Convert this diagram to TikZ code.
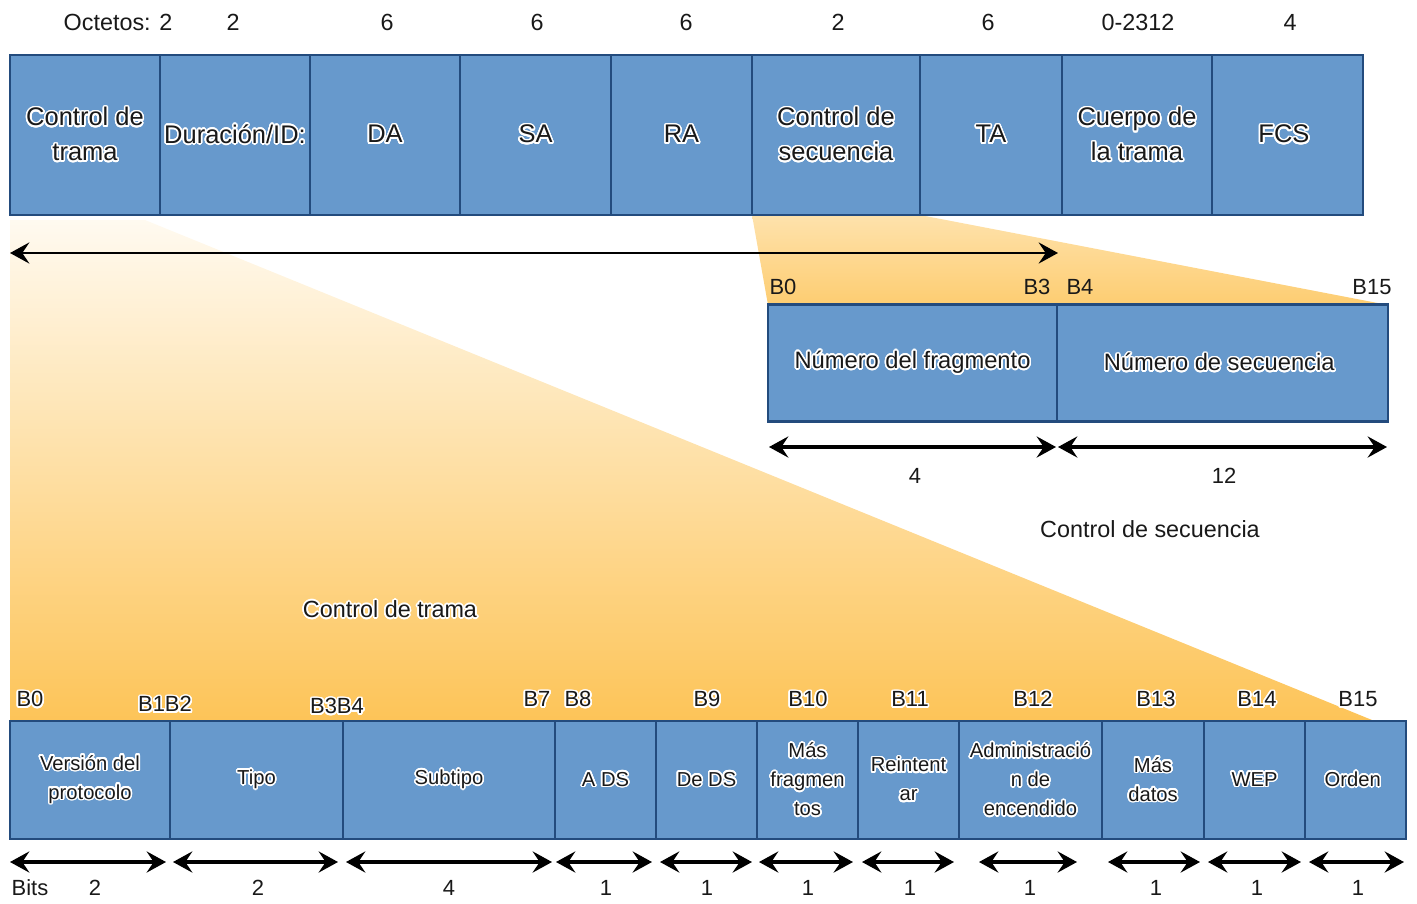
\documentclass[tikz,border=0pt]{standalone}
\usepackage{fontspec}
\setmainfont{Liberation Sans}
\usepackage{contour}
\contourlength{0.9pt}
\contournumber{24}
\usetikzlibrary{arrows.meta, positioning}

\definecolor{campo}{RGB}{103,153,204}
\definecolor{borde}{RGB}{35,75,125}
\definecolor{naranja}{RGB}{253,196,88}
\definecolor{naranjaclaro}{RGB}{255,250,240}
\definecolor{naranjamedio}{RGB}{254,226,172}
\definecolor{texto}{RGB}{25,25,25}
\newcommand{\halo}[1]{\contour{white}{#1}}

\begin{document}
\begin{tikzpicture}[x=0.02cm, y=-0.02cm,
  campo/.style={draw=borde, fill=campo, line width=1.6pt, inner sep=0pt, text=texto, align=center},
  flecha/.style={line width=2pt, {Stealth[length=11pt,width=12pt,inset=4pt]}-{Stealth[length=11pt,width=12pt,inset=4pt]}},
  etiq/.style={inner sep=0pt, text=texto, font=\fontsize{12.5}{14}\selectfont}]

\useasboundingbox (0,0) rectangle (1417,903);

% Zonas de ampliacion (degradado naranja)
\shade[top color=naranjaclaro, bottom color=naranja] (10,220) -- (145,220) -- (1372,720) -- (10,720) -- cycle;
\shade[top color=naranjamedio, bottom color=naranja!85!white] (752,215) -- (920,215) -- (1388,305) -- (768,305) -- cycle;

% Campos de la trama 802.11
\foreach \i/\xa/\xb/\txt in {
  1/10/160/{\halo{Control de}\\\halo{trama}},
  2/160/310/{\halo{Duración/ID:}},
  3/310/460/{\halo{DA}},
  4/460/611/{\halo{SA}},
  5/611/752/{\halo{RA}},
  6/752/920/{\halo{Control de}\\\halo{secuencia}},
  7/920/1062/{\halo{TA}},
  8/1062/1212/{\halo{Cuerpo de}\\\halo{la trama}},
  9/1212/1363/{\halo{FCS}}
} {
  \pgfmathsetmacro{\w}{(\xb-\xa)*0.02}
  \node[campo, minimum width=\w cm, minimum height=3.2cm,
        font=\fontsize{14.5}{19.8}\selectfont] (t\i) at ({(\xa+\xb)/2},135) {\txt};
}

% Octetos de cada campo
\foreach \i/\x/\txt in {1/118/{Octetos: 2}, 2/233/2, 3/387/6, 4/537/6, 5/686/6,
  6/838/2, 7/988/6, 8/1138/0-2312, 9/1290/4} {
  \node[etiq, font=\fontsize{13.3}{15}\selectfont] (oct\i) at (\x,22) {\txt};
}

% Flecha larga
\coordinate (fl-izq) at (10,253);
\coordinate (fl-der) at (1058,253);
\draw[flecha, line width=1.5pt] (fl-izq) -- (fl-der);

% Control de secuencia
\foreach \i/\xa/\xb/\txt in {
  1/768/1057/{\halo{Número del fragmento}},
  2/1057/1388/{\halo{Número de secuencia}}
} {
  \pgfmathsetmacro{\w}{(\xb-\xa)*0.02}
  \node[campo, minimum width=\w cm, minimum height=2.34cm,
        font=\fontsize{13.5}{16}\selectfont] (s\i) at ({(\xa+\xb)/2},363) {\txt};
  \coordinate (si\i) at (\xa+1,447);
  \coordinate (sd\i) at (\xb-1,447);
  \draw[flecha] (si\i) -- (sd\i);
}
\foreach \j/\x/\txt in {0/783/B0, 3/1037/B3, 4/1080/B4, 15/1372/B15} {
  \node[etiq] (sb\j) at (\x,287) {\txt};
}
\node[etiq] (sn1) at (915,476) {4};
\node[etiq] (sn2) at (1224,476) {12};
\node[etiq, font=\fontsize{13.3}{15}\selectfont] (tit-sec) at (1150,529) {Control de secuencia};

% Control de trama
\node[etiq, font=\fontsize{13.3}{15}\selectfont] (tit-trama) at (390,610) {\halo{Control de trama}};

\foreach \j/\x/\y/\txt in {0/30/700/B0, 1/165/705/B1B2, 3/337/707/B3B4, 7/537/700/B7,
  8/578/700/B8, 9/707/700/B9, 10/808/700/B10, 11/910/700/B11, 12/1033/700/B12,
  13/1156/700/B13, 14/1257/700/B14, 15/1358/700/B15} {
  \node[etiq] (bb\j) at (\x,\y) {\halo{\txt}};
}

\foreach \i/\xa/\xb/\txt in {
  1/10/170/{\halo{Versión del}\\\halo{protocolo}},
  2/170/343/{\halo{Tipo}},
  3/343/555/{\halo{Subtipo}},
  4/555/656/{\halo{A DS}},
  5/656/757/{\halo{De DS}},
  6/757/858/{\halo{Más}\\\halo{fragmen}\\\halo{tos}},
  7/858/959/{\halo{Reintent}\\\halo{ar}},
  8/959/1102/{\halo{Administració}\\\halo{n de}\\\halo{encendido}},
  9/1102/1204/{\halo{Más}\\\halo{datos}},
  10/1204/1305/{\halo{WEP}},
  11/1305/1406/{\halo{Orden}}
} {
  \pgfmathsetmacro{\w}{(\xb-\xa)*0.02}
  \node[campo, minimum width=\w cm, minimum height=2.36cm,
        font=\fontsize{11.5}{16.5}\selectfont] (b\i) at ({(\xa+\xb)/2},780) {\txt};
}

% Flechas de bits
\foreach \i/\xa/\xb/\xn/\n in {1/10/166/95/2, 2/173/338/258/2, 3/346/552/449/4,
  4/556/652/606/1, 5/660/752/707/1, 6/759/853/808/1, 7/862/954/910/1,
  8/979/1077/1030/1, 9/1108/1200/1156/1, 10/1208/1301/1257/1, 11/1309/1404/1358/1} {
  \coordinate (bi\i) at (\xa,862);
  \coordinate (bd\i) at (\xb,862);
  \draw[flecha] (bi\i) -- (bd\i);
  \node[etiq] (bn\i) at (\xn,888) {\n};
}
\node[etiq] (bits) at (30,888) {Bits};

\end{tikzpicture}
\end{document}
